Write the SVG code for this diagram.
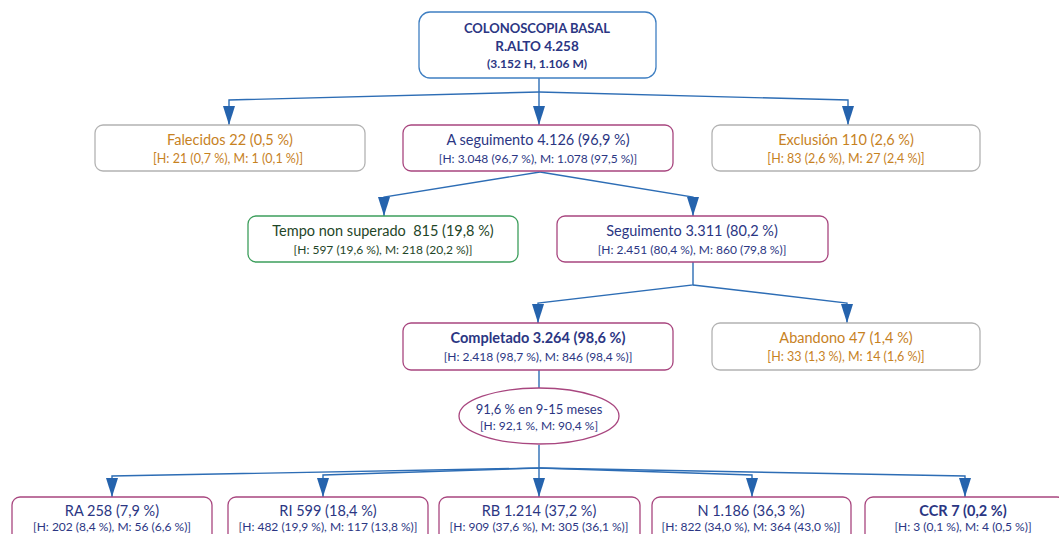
<svg xmlns="http://www.w3.org/2000/svg" width="1059" height="534" viewBox="0 0 1059 534">
<style>
.box{fill:#fff;stroke-width:1.3}
.g{stroke:#b3b3b3}
.m{stroke:#a8467f}
.gr{stroke:#3d9e5c}
.b{stroke:#3f7fc2}
text{font-family:Lato,"Liberation Sans",sans-serif;text-anchor:middle;dominant-baseline:central}
.t{font-size:14.5px}
.s{font-size:12px}
.or{fill:#c7821f}
.s.or{font-size:12.5px}
.nv{fill:#2b3683}
.dg{fill:#1f4628}
.bold{font-weight:bold}
.conn path{fill:none;stroke:#2d6db5;stroke-width:1.4}
</style>
<defs>
<marker id="ah" markerUnits="userSpaceOnUse" markerWidth="19" markerHeight="12" refX="19" refY="6" orient="auto" viewBox="0 0 19 12">
<path d="M0,0 L19,6 L0,12 Z" fill="#2563ad"/>
</marker>
</defs>

<g class="conn">
<path d="M539,78 V125" marker-end="url(#ah)"/>
<path d="M539,92 L229,100 V125" marker-end="url(#ah)"/>
<path d="M539,92 L848,100 V125" marker-end="url(#ah)"/>
<path d="M540,172 L384,197 V216" marker-end="url(#ah)"/>
<path d="M540,172 L693,197 V216" marker-end="url(#ah)"/>
<path d="M693,262 V285 L538,303 V323" marker-end="url(#ah)"/>
<path d="M693,285 L847,303 V323" marker-end="url(#ah)"/>
<path d="M539,370 V388"/>
<path d="M539,445 V468 L112,476 V497" marker-end="url(#ah)"/>
<path d="M539,468 L323,475 V497" marker-end="url(#ah)"/>
<path d="M539,468 V497" marker-end="url(#ah)"/>
<path d="M539,468 L752,475 V497" marker-end="url(#ah)"/>
<path d="M539,468 L965,476 V497" marker-end="url(#ah)"/>
</g>

<g id="root">
<rect class="box b" x="419" y="12" width="237" height="66" rx="11"/>
<text class="nv bold" x="537" y="28" style="font-size:13px">COLONOSCOPIA BASAL</text>
<text class="nv bold" x="537" y="46" style="font-size:13.5px">R.ALTO 4.258</text>
<text class="nv bold" x="537" y="63" style="font-size:12px">(3.152 H, 1.106 M)</text>
</g>

<g id="falecidos">
<rect class="box g" x="95" y="125" width="270" height="46" rx="8"/>
<text class="t or" x="230" y="139">Falecidos 22 (0,5 %)</text>
<text class="s or" x="228" y="158">[H: 21 (0,7 %), M: 1 (0,1 %)]</text>
</g>

<g id="aseguimento">
<rect class="box m" x="403" y="125" width="270" height="46" rx="8"/>
<text class="t nv" x="538" y="139">A seguimento 4.126 (96,9 %)</text>
<text class="s nv" x="538" y="158">[H: 3.048 (96,7 %), M: 1.078 (97,5 %)]</text>
</g>

<g id="exclusion">
<rect class="box g" x="712" y="125" width="268" height="46" rx="8"/>
<text class="t or" x="846" y="139">Exclusión 110 (2,6 %)</text>
<text class="s or" x="846" y="158">[H: 83 (2,6 %), M: 27 (2,4 %)]</text>
</g>

<g id="tempo">
<rect class="box gr" x="248" y="216" width="270" height="46" rx="8"/>
<text class="t dg" x="383" y="230" xml:space="preserve">Tempo non superado  815 (19,8 %)</text>
<text class="s dg" x="383" y="249">[H: 597 (19,6 %), M: 218 (20,2 %)]</text>
</g>

<g id="seguimento">
<rect class="box m" x="557" y="216" width="271" height="46" rx="8"/>
<text class="t nv" x="692" y="230">Seguimento 3.311 (80,2 %)</text>
<text class="s nv" x="692" y="249">[H: 2.451 (80,4 %), M: 860 (79,8 %)]</text>
</g>

<g id="completado">
<rect class="box m" x="403" y="323" width="270" height="47" rx="8"/>
<text class="t nv bold" x="538" y="337">Completado 3.264 (98,6 %)</text>
<text class="s nv" x="538" y="356">[H: 2.418 (98,7 %), M: 846 (98,4 %)]</text>
</g>

<g id="abandono">
<rect class="box g" x="712" y="323" width="268" height="47" rx="8"/>
<text class="t or" x="846" y="337">Abandono 47 (1,4 %)</text>
<text class="s or" x="846" y="356">[H: 33 (1,3 %), M: 14 (1,6 %)]</text>
</g>

<g id="meses">
<ellipse class="box m" cx="539" cy="416" rx="80" ry="28"/>
<text class="s nv" x="539" y="409" style="font-size:13px">91,6 % en 9-15 meses</text>
<text class="s nv" x="539" y="425">[H: 92,1 %, M: 90,4 %]</text>
</g>

<g id="ra">
<rect class="box m" x="12" y="497" width="200" height="50" rx="8"/>
<text class="t nv" x="112" y="510">RA 258 (7,9 %)</text>
<text class="s nv" x="112" y="526">[H: 202 (8,4 %), M: 56 (6,6 %)]</text>
</g>

<g id="ri">
<rect class="box m" x="228" y="497" width="200" height="50" rx="8"/>
<text class="t nv" x="328" y="510">RI 599 (18,4 %)</text>
<text class="s nv" x="328" y="526">[H: 482 (19,9 %), M: 117 (13,8 %)]</text>
</g>

<g id="rb">
<rect class="box m" x="439" y="497" width="201" height="50" rx="8"/>
<text class="t nv" x="539" y="510">RB 1.214 (37,2 %)</text>
<text class="s nv" x="539" y="526">[H: 909 (37,6 %), M: 305 (36,1 %)]</text>
</g>

<g id="n">
<rect class="box m" x="652" y="497" width="199" height="50" rx="8"/>
<text class="t nv" x="751" y="510">N 1.186 (36,3 %)</text>
<text class="s nv" x="751" y="526">[H: 822 (34,0 %), M: 364 (43,0 %)]</text>
</g>

<g id="ccr">
<rect class="box m" x="865" y="497" width="200" height="50" rx="8"/>
<text class="t nv bold" x="963" y="510">CCR 7 (0,2 %)</text>
<text class="s nv" x="963" y="526">[H: 3 (0,1 %), M: 4 (0,5 %)]</text>
</g>
</svg>
